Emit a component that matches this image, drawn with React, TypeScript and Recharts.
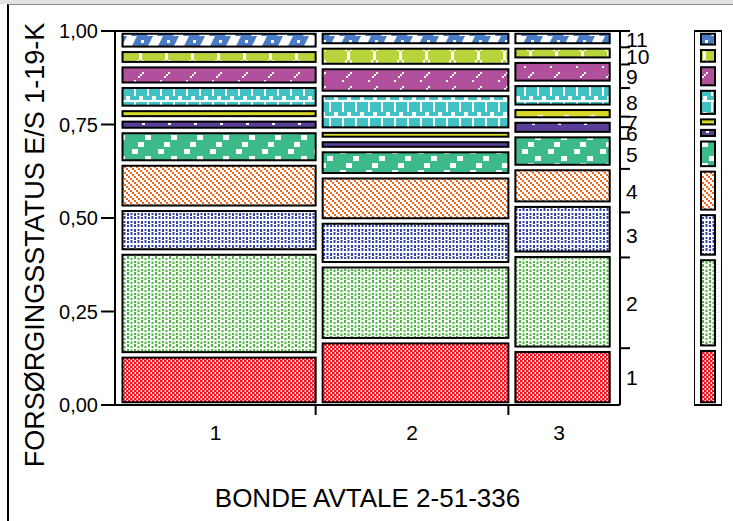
import React from 'react';
import { ComposedChart, XAxis, YAxis, ReferenceArea } from 'recharts';

// groups on the x axis (BONDE AVTALE) and their share of all cases
const groups = ['1', '2', '3'];
const groupShares = [0.405, 0.39, 0.205];

// levels of FORSØRGINGSSTATUS, bottom to top
const levels = ['1', '2', '3', '4', '5', '6', '7', '8', '9', '10', '11'];

// within-group shares of each level
const group1 = [0.134, 0.275, 0.117, 0.121, 0.087, 0.031, 0.028, 0.062, 0.055, 0.041, 0.049];
const group2 = [0.172, 0.203, 0.117, 0.121, 0.07, 0.027, 0.025, 0.098, 0.072, 0.055, 0.04];
const group3 = [0.149, 0.254, 0.134, 0.098, 0.088, 0.039, 0.034, 0.064, 0.062, 0.038, 0.04];

const yTicks = [0, 0.25, 0.5, 0.75, 1];

const FONT = '"Liberation Sans", Arial, sans-serif';
const colors = ['#f0141e', '#4cb840', '#3646a8', '#f2661c', '#3dba8a', '#5a3e97', '#d9d92a', '#40c1c4', '#b1519e', '#b7d43c', '#4a7bc4'];

const columns = [group1, group2, group3];

type Cell = { key: string; x1: number; x2: number; y1: number; y2: number; level: number };
const cells: Cell[] = [];
let gx = 0;
columns.forEach((col, gi) => {
  let cy = 0;
  col.forEach((v, li) => {
    cells.push({ key: `${gi}-${li}`, x1: gx, x2: gx + groupShares[gi], y1: cy, y2: cy + v, level: li });
    cy += v;
  });
  gx += groupShares[gi];
});

// marginal distribution over all groups (right axis + legend strip)
const marginal = levels.map((_, li) => columns.reduce((s, col, gi) => s + col[li] * groupShares[gi], 0));
const marginCells: Cell[] = [];
let my = 0;
marginal.forEach((v, li) => {
  marginCells.push({ key: `m-${li}`, x1: 0, x2: 1, y1: my, y2: my + v, level: li });
  my += v;
});

const k = (v: number) => v.toFixed(6);

const bottomTicks = new Map<string, { kind: string; label?: string }>();
let bx = 0;
groups.forEach((g, gi) => {
  bottomTicks.set(k(bx + groupShares[gi] / 2), { kind: 'text', label: g });
  bx += groupShares[gi];
  if (gi < groups.length - 1) bottomTicks.set(k(bx), { kind: 'line' });
});

const rightTicks = new Map<string, { kind: string; label?: string }>();
marginCells.forEach((c, i) => {
  rightTicks.set(k((c.y1 + c.y2) / 2), { kind: 'text', label: levels[i] });
  rightTicks.set(k(c.y2), { kind: 'line' });
});
const toNums = (m: Map<string, any>) => Array.from(m.keys()).map(Number).sort((a, b) => a - b);

const BottomTick = (props: any) => {
  const { x, y, payload } = props;
  const t = bottomTicks.get(k(payload.value));
  if (!t) return <g />;
  if (t.kind === 'line') return <line x1={x} x2={x} y1={y} y2={y + 10} stroke="#000" strokeWidth={2} />;
  return (
    <text x={x} y={y + 35} textAnchor="middle" fontSize={21} fontFamily={FONT} fill="#000">
      {t.label}
    </text>
  );
};

const RightTick = (props: any) => {
  const { x, y, payload } = props;
  const t = rightTicks.get(k(payload.value));
  if (!t) return <g />;
  if (t.kind === 'line') return <line x1={x} x2={x + 10} y1={y} y2={y} stroke="#000" strokeWidth={2} />;
  return (
    <text x={x + 6} y={y + 8} textAnchor="start" fontSize={21} fontFamily={FONT} fill="#000">
      {t.label}
    </text>
  );
};

const pattern = (id: string, w: number, h: number, bg: string, fg: string, rects: number[][]) => (
  <pattern key={id} id={id} width={w} height={h} patternUnits="userSpaceOnUse">
    <rect width={w} height={h} fill={bg} />
    {rects.map((r, i) => (
      <rect key={i} x={r[0]} y={r[1]} width={r[2]} height={r[3]} fill={fg} />
    ))}
  </pattern>
);

const patternDefs = (
  <defs>
    {pattern('pat0', 4, 4, '#fff', colors[0], [[0, 0, 2, 2], [2, 2, 2, 2], [2, 0, 0.6, 2], [0, 2, 0.6, 2]])}
    {pattern('pat1', 7, 8, '#fff', colors[1], [[1, 0, 2, 3], [1, 5, 2, 2], [4.5, 2, 2, 2], [4.5, 5.5, 2, 2.5]])}
    {pattern('pat2', 7, 8, '#fff', colors[2], [[1, 1, 2, 2], [1, 5, 2, 3], [4.5, 0, 2, 3], [4.5, 5, 2, 2]])}
    {pattern('pat3', 6, 6, '#fff', colors[3], [[0, 0, 2, 2], [2, 2, 2, 2], [4, 4, 2, 2]])}
    {pattern('pat4', 26, 21, colors[4], '#fff', [[2, 2, 6, 5], [15, 9, 6, 5], [8, 16, 6, 5]])}
    {pattern('pat5', 26, 8, colors[5], '#fff', [[12, 3, 3, 2]])}
    {pattern('pat6', 26, 8, colors[6], '#fff', [[18, 3, 5, 2]])}
    {pattern('pat7', 13, 16, '#fff', colors[7], [[0, 0, 9, 4], [0, 6, 4, 10], [6, 6, 7, 10]])}
    {pattern('pat8', 26, 14, colors[8], '#fff', [[12, 2, 2, 2], [10, 4, 2, 2], [8, 6, 2, 2], [4, 10, 2, 2]])}
    {pattern('pat9', 26, 12, colors[9], '#fff', [[9, 3, 3, 9], [7, 0, 2, 3], [12, 0, 2, 3]])}
    <pattern id="pat10" width={26} height={12} patternUnits="userSpaceOnUse">
      <rect width={26} height={12} fill="#fff" />
      <polygon points="7,0 23,0 17,12 1,12" fill={colors[10]} />
      <rect x={11} y={4} width={3} height={3} fill="#fff" />
    </pattern>
  </defs>
);

const cellShape = (level: number, inL: number, inR: number) => (p: any) => (
  <rect
    x={p.x + inL}
    y={p.y + 2.75}
    width={Math.max(p.width - inL - inR, 1)}
    height={Math.max(p.height - 5.5, 1)}
    fill={`url(#pat${level})`}
    stroke="#000"
    strokeWidth={2}
  />
);

const axisStroke = { stroke: '#000', strokeWidth: 2 };

export default function App() {
  return (
    <div style={{ position: 'absolute', left: 0, top: 0, width: 733, height: 521, background: '#fff', overflow: 'hidden' }}>
      <div style={{ position: 'absolute', left: 0, top: 0, width: 733, height: 4, background: '#e2e2e2' }} />
      <div style={{ position: 'absolute', left: 7, top: 4, width: 760, height: 560, borderTop: '1px solid #8a8a8a', borderLeft: '2px solid #000' }} />
      <div style={{ position: 'absolute', left: 0, top: 0 }}>
        <ComposedChart width={733} height={521} data={cells} margin={{ top: 30, right: 53, bottom: 0, left: 0 }}>
          {patternDefs}
          <XAxis
            type="number"
            dataKey="x1"
            domain={[0, 1]}
            allowDataOverflow
            padding={{ left: 0.5, right: 10.3 }}
            ticks={toNums(bottomTicks)}
            interval={0}
            tick={<BottomTick />}
            tickLine={false}
            tickSize={0}
            tickMargin={0}
            height={116}
            axisLine={axisStroke}
            label={(p: any) => {
              const vb = p.viewBox;
              return (
                <text x={vb.x + vb.width / 2} y={vb.y + 102} textAnchor="middle" fontSize={26} fontFamily={FONT} fill="#000">
                  BONDE AVTALE 2-51-336
                </text>
              );
            }}
          />
          <XAxis
            xAxisId="top"
            orientation="top"
            type="number"
            dataKey="x1"
            domain={[0, 1]}
            allowDataOverflow
            height={1}
            tick={false}
            tickLine={false}
            axisLine={axisStroke}
          />
          <YAxis
            type="number"
            dataKey="y1"
            domain={[0, 1]}
            allowDataOverflow
            ticks={yTicks}
            interval={0}
            width={115}
            tickSize={14}
            tickMargin={3}
            tickFormatter={(v: number) => v.toFixed(2).replace('.', ',')}
            tick={{ fill: '#000', fontSize: 20, fontFamily: FONT }}
            tickLine={axisStroke}
            axisLine={axisStroke}
            label={(p: any) => {
              const vb = p.viewBox;
              const cx = 35;
              const cy = vb.y + vb.height / 2 + 27;
              return (
                <text x={cx} y={cy} transform={`rotate(-90 ${cx} ${cy})`} textAnchor="middle" dominantBaseline="central" fontSize={27} fontFamily={FONT} fill="#000">
                  FORSØRGINGSSTATUS E/S 1-19-K
                </text>
              );
            }}
          />
          <YAxis
            yAxisId="r"
            orientation="right"
            type="number"
            dataKey="y1"
            domain={[0, 1]}
            allowDataOverflow
            ticks={toNums(rightTicks)}
            interval={0}
            width={60}
            tickSize={0}
            tickMargin={0}
            tickLine={false}
            tick={<RightTick />}
            axisLine={axisStroke}
          />
          {cells.map((c) => (
            <ReferenceArea
              key={c.key}
              x1={c.x1}
              x2={c.x2}
              y1={c.y1}
              y2={c.y2}
              ifOverflow="visible"
              shape={cellShape(c.level, 7, 0)}
            />
          ))}
        </ComposedChart>
      </div>
      <div style={{ position: 'absolute', left: 694, top: 0 }}>
        <ComposedChart width={28} height={521} data={marginCells} margin={{ top: 31, right: 0, bottom: 116, left: 0 }}>
          <XAxis type="number" dataKey="x1" domain={[0, 1]} allowDataOverflow hide height={0} />
          <YAxis type="number" dataKey="y1" domain={[0, 1]} allowDataOverflow hide width={0} />
          <ReferenceArea x1={0} x2={1} y1={0} y2={1} ifOverflow="visible" fill="#fff" fillOpacity={1} stroke="#000" strokeWidth={2} />
          {marginCells.map((c) => (
            <ReferenceArea
              key={c.key}
              x1={c.x1}
              x2={c.x2}
              y1={c.y1}
              y2={c.y2}
              ifOverflow="visible"
              shape={cellShape(c.level, 7, 7)}
            />
          ))}
        </ComposedChart>
      </div>
    </div>
  );
}
